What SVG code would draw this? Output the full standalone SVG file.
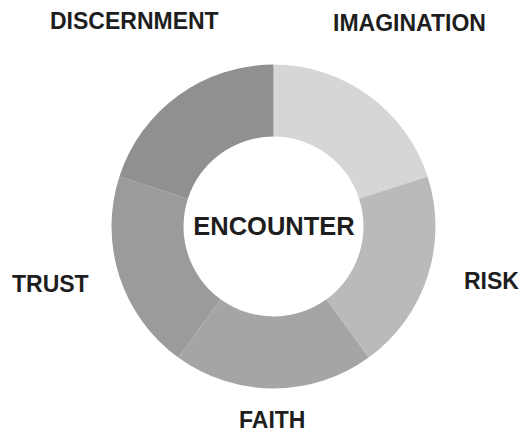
<svg xmlns="http://www.w3.org/2000/svg" width="520" height="431" viewBox="0 0 520 431">
<style>
.lbl{font-family:"Liberation Sans",Arial,sans-serif;font-weight:bold;font-size:23px;fill:#1e1e1e}
.ctr{font-family:"Liberation Sans",Arial,sans-serif;font-weight:bold;font-size:25.5px;fill:#1e1e1e}
</style>
<rect width="520" height="431" fill="#ffffff"/>
<g id="imagination">
<path d="M273.5,64.5 A162,162 0 0 1 427.57,176.44 L359.10,198.69 A90,90 0 0 0 273.5,136.5 Z" fill="#d6d6d6"/>
<text class="lbl" x="333" y="31">IMAGINATION</text>
</g>
<g id="risk">
<path d="M427.57,176.44 A162,162 0 0 1 368.72,357.56 L326.40,299.31 A90,90 0 0 0 359.10,198.69 Z" fill="#bababa"/>
<text class="lbl" x="464" y="289">RISK</text>
</g>
<g id="faith">
<path d="M368.72,357.56 A162,162 0 0 1 178.28,357.56 L220.60,299.31 A90,90 0 0 0 326.40,299.31 Z" fill="#a5a5a5"/>
<text class="lbl" x="239" y="428">FAITH</text>
</g>
<g id="trust">
<path d="M178.28,357.56 A162,162 0 0 1 119.43,176.44 L187.90,198.69 A90,90 0 0 0 220.60,299.31 Z" fill="#9b9b9b"/>
<text class="lbl" x="12" y="292">TRUST</text>
</g>
<g id="discernment">
<path d="M119.43,176.44 A162,162 0 0 1 273.5,64.5 L273.5,136.5 A90,90 0 0 0 187.90,198.69 Z" fill="#909090"/>
<text class="lbl" x="50" y="29">DISCERNMENT</text>
</g>
<g id="encounter">
<text class="ctr" x="274" y="235" text-anchor="middle">ENCOUNTER</text>
</g>
<g id="connectors"></g>
</svg>
